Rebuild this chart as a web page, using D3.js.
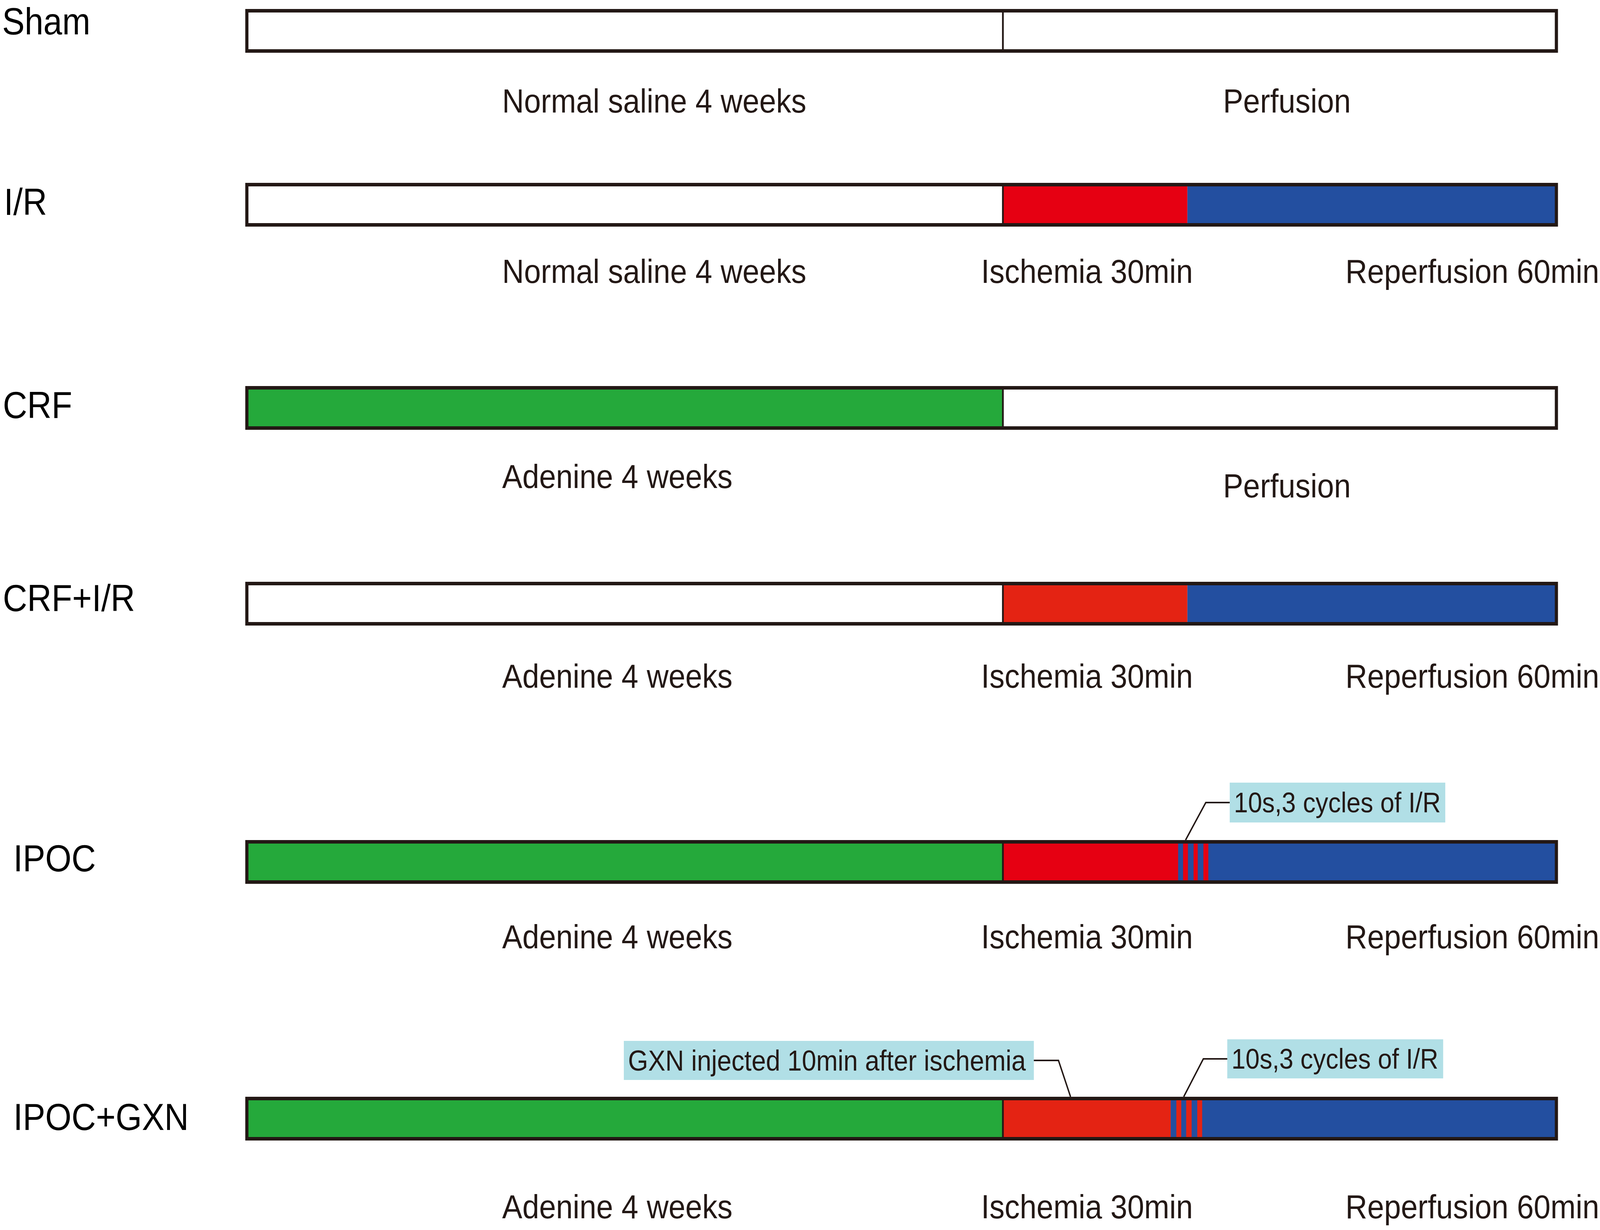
<!DOCTYPE html>
<html>
<head>
<meta charset="utf-8">
<script src="https://cdn.jsdelivr.net/npm/d3@7"></script>
<style>
    html, body { margin: 0; padding: 0; background: #fff; overflow: hidden; }
    svg { display: block; width: 100vw; height: 100vh; }
    text { font-family: "Liberation Sans", Arial, sans-serif; }
</style>
</head>
<body>
<svg id="protocol-chart"></svg>
<script>
// groups, top to bottom
var groups = ["Sham", "I/R", "CRF", "CRF+I/R", "IPOC", "IPOC+GXN"];
// what the 4 week pre-treatment is, and whether its bar is coloured
var pretreatment = ["Normal saline", "Normal saline", "Adenine", "Adenine", "Adenine", "Adenine"];
var pretreatFilled = [false, false, true, false, true, true];
// heart protocol: plain perfusion or ischemia / reperfusion
var protocol = ["perfusion", "ir", "perfusion", "ir", "ir", "ir"];
var weeks = 4;
var ischemiaMin = 30;
var reperfusionMin = 60;
// boundaries (min) of the 10s postconditioning stripes
var ipocStripes = [28.5, 29.3, 30.1, 31.0, 31.7, 32.6, 33.4];
var gxnStripes = [27.3, 28.2, 29.0, 29.8, 30.7, 31.6, 32.4];
var stripes = [null, null, null, null, ipocStripes, gxnStripes];
var gxnInjectMin = 11;
var ischemiaRed = [null, "#e60012", null, "#e42313", "#e60012", "#e42313"];

// drawing is laid out on the reference's 4550 x 3148 grid, then fitted to the window
var width = 4550, height = 3148;
var barLeft = 702, barSplit = 2852, barRight = 4426;
var barH = 103, border = 9;
var rowCentre = [79, 524, 1044, 1545, 2206, 2863];
var nameX = [6, 11, 8, 8, 38, 38];
var nameY = [54, 516, 1036, 1530, 2196, 2858];
var phaseY = [258, 694, 1219, 1730, 2397, 3088];
var perfusionY = [258, 694, 1243, 1730, 2397, 3088];

var green = "#25a93b", blue = "#234fa0", ink = "#231815", callout = "#b1dfe6";

var xWeeks = d3.scaleLinear().domain([0, weeks]).range([barLeft, barSplit]);
var xMin = d3.scaleLinear().domain([0, ischemiaMin + reperfusionMin]).range([barSplit, barRight]);

var svg = d3.select("#protocol-chart")
    .attr("viewBox", "0 0 " + width + " " + height)
    .attr("preserveAspectRatio", "none");
svg.append("rect").attr("width", width).attr("height", height).attr("fill", "#fff");

function segmentsFor(i) {
    var segs = [];
    segs.push({ x0: xWeeks(0), x1: xWeeks(weeks), fill: pretreatFilled[i] ? green : "#fff" });
    if (protocol[i] === "perfusion") {
        segs.push({ x0: xMin(0), x1: xMin(ischemiaMin + reperfusionMin), fill: "#fff" });
        return segs;
    }
    var red = ischemiaRed[i];
    var s = stripes[i];
    var ischEnd = s ? s[0] : ischemiaMin;
    segs.push({ x0: xMin(0), x1: xMin(ischEnd), fill: red });
    segs.push({ x0: xMin(ischEnd), x1: xMin(ischemiaMin + reperfusionMin), fill: blue });
    if (s) {
        // alternating reperfusion / ischemia stripes
        for (var k = 0; k < s.length - 1; k++) {
            segs.push({ x0: xMin(s[k]), x1: xMin(s[k + 1]), fill: k % 2 === 0 ? blue : red });
        }
    }
    return segs;
}

var row = svg.selectAll("g.row").data(groups).enter().append("g")
    .attr("class", "row")
    .attr("transform", function (d, i) { return "translate(0," + rowCentre[i] + ")"; });

row.each(function (d, i) {
    var g = d3.select(this);
    g.selectAll("rect.seg").data(segmentsFor(i)).enter().append("rect")
        .attr("class", "seg")
        .attr("x", function (s) { return s.x0; })
        .attr("width", function (s) { return s.x1 - s.x0; })
        .attr("y", -barH / 2)
        .attr("height", barH)
        .attr("fill", function (s) { return s.fill; });
    // divider between pre-treatment and heart protocol
    g.append("line")
        .attr("x1", xWeeks(weeks)).attr("x2", xWeeks(weeks))
        .attr("y1", -barH / 2).attr("y2", barH / 2)
        .attr("stroke", ink).attr("stroke-width", 5);
    g.append("rect")
        .attr("x", barLeft).attr("y", -barH / 2)
        .attr("width", barRight - barLeft).attr("height", barH)
        .attr("fill", "none").attr("stroke", ink).attr("stroke-width", border);
});

// group names
svg.selectAll("text.name").data(groups).enter().append("text")
    .attr("class", "name")
    .attr("x", function (d, i) { return nameX[i]; })
    .attr("y", function (d, i) { return nameY[i]; })
    .attr("dy", "0.35em")
    .attr("font-size", 96)
    .attr("fill", "#000")
    .text(function (d) { return d; });

// phase labels under the bars
var phaseLabels = [];
groups.forEach(function (d, i) {
    phaseLabels.push({ x: 1428, y: phaseY[i], text: pretreatment[i] + " " + weeks + " weeks" });
    if (protocol[i] === "perfusion") {
        phaseLabels.push({ x: 3478, y: perfusionY[i], text: "Perfusion" });
    } else {
        phaseLabels.push({ x: 2790, y: phaseY[i], text: "Ischemia " + ischemiaMin + "min" });
        phaseLabels.push({ x: 3826, y: phaseY[i], text: "Reperfusion " + reperfusionMin + "min" });
    }
});
svg.selectAll("text.phase").data(phaseLabels).enter().append("text")
    .attr("class", "phase")
    .attr("x", function (d) { return d.x; })
    .attr("y", function (d) { return d.y; })
    .attr("dy", "0.35em")
    .attr("font-size", 86)
    .attr("fill", ink)
    .text(function (d) { return d.text; });

// callouts: box, text and an elbow leader down to the bar
var callouts = [
    { row: 4, text: "10s,3 cycles of I/R", bx: 3497, by: 2003, bw: 613, bh: 102, size: 72, side: "left", at: (ipocStripes[1] + ipocStripes[2]) / 2 },
    { row: 5, text: "10s,3 cycles of I/R", bx: 3490, by: 2660, bw: 614, bh: 100, size: 72, side: "left", at: (gxnStripes[2] + gxnStripes[3]) / 2 },
    { row: 5, text: "GXN injected 10min after ischemia", bx: 1774, by: 2664, bw: 1166, bh: 100, size: 73.5, side: "right", at: gxnInjectMin }
];
var co = svg.selectAll("g.callout").data(callouts).enter().append("g").attr("class", "callout");
co.append("rect")
    .attr("x", function (d) { return d.bx; })
    .attr("y", function (d) { return d.by; })
    .attr("width", function (d) { return d.bw; })
    .attr("height", function (d) { return d.bh; })
    .attr("fill", callout);
co.append("text")
    .attr("x", function (d) { return d.bx + 12; })
    .attr("y", function (d) { return d.by + d.bh / 2; })
    .attr("dy", "0.35em")
    .attr("font-size", function (d) { return d.size; })
    .attr("fill", ink)
    .text(function (d) { return d.text; });
co.append("path")
    .attr("fill", "none")
    .attr("stroke", ink)
    .attr("stroke-width", 4)
    .attr("d", function (d) {
        var y0 = d.by + d.bh / 2;
        var x0 = d.side === "left" ? d.bx : d.bx + d.bw;
        var xe = d.side === "left" ? x0 - 68 : x0 + 70;
        var yb = rowCentre[d.row] - barH / 2 - border / 2;
        return d3.line()([[x0, y0], [xe, y0], [xMin(d.at), yb]]);
    });
</script>
</body>
</html>
